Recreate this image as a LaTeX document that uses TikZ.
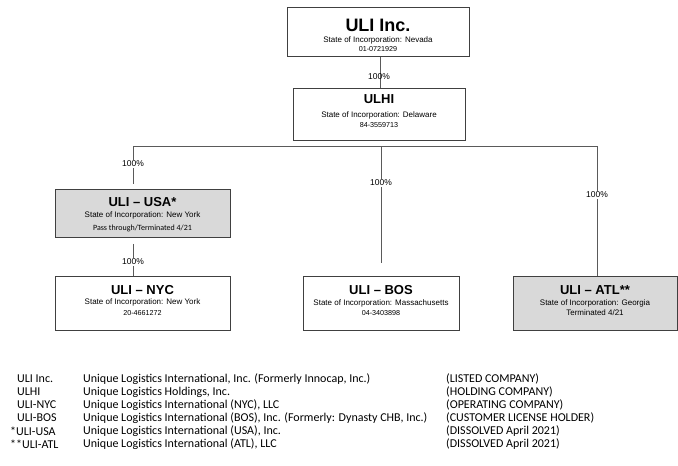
\documentclass[tikz,border=0pt]{standalone}
\usepackage{fontspec}
\setmainfont{Liberation Sans}
\newfontfamily\legfont{Carlito}
\definecolor{boxline}{HTML}{404040}
\definecolor{connline}{HTML}{5A5A5A}
\definecolor{boxfill}{HTML}{D9D9D9}
\begin{document}
\begin{tikzpicture}[x=1pt,y=-1pt,
  box/.style={draw=boxline, line width=0.9pt, inner sep=0pt, anchor=north west},
  gbox/.style={box, fill=boxfill},
  bigtitle/.style={inner sep=0pt, font=\fontsize{18}{18}\selectfont\bfseries},
  title/.style={inner sep=0pt, font=\fontsize{13}{13}\selectfont\bfseries},
  small/.style={inner sep=0pt, font=\fontsize{8}{8}\selectfont},
  num/.style={inner sep=0pt, font=\fontsize{7.2}{8}\selectfont},
  calsmall/.style={inner sep=0pt, font=\legfont\fontsize{8}{8}\selectfont},
  pct/.style={inner sep=1pt, fill=white, font=\fontsize{8.5}{9}\selectfont},
  pctnf/.style={inner sep=0pt, font=\fontsize{8.5}{9}\selectfont},
  conn/.style={draw=connline, line width=0.8pt},
  leg/.style={inner sep=0pt, anchor=west, font=\legfont\fontsize{12}{12}\selectfont}
]
\useasboundingbox (0,0) rectangle (678,466);

% boxes
\node[box, minimum width=182pt, minimum height=49pt] (uli) at (287,7) {};
\node[box, minimum width=172pt, minimum height=52pt] (ulhi) at (293,88) {};
\node[gbox, minimum width=175pt, minimum height=48pt] (usa) at (55,189) {};
\node[box, minimum width=175pt, minimum height=54pt] (nyc) at (55,276) {};
\node[box, minimum width=156pt, minimum height=54pt] (bos) at (303,276) {};
\node[gbox, minimum width=164pt, minimum height=54pt] (atl) at (513,276) {};

% box texts
\node[bigtitle] (uliT) at (378,25) {ULI Inc.};
\node[small] (uliS) at (378,40) {State of Incorporation: Nevada};
\node[num] (uliN) at (378,49) {01-0721929};

\node[title] (ulhiT) at (379,99) {ULHI};
\node[small] (ulhiS) at (379,115) {State of Incorporation: Delaware};
\node[num] (ulhiN) at (379,125) {84-3559713};

\node[title] (usaT) at (142.5,202) {ULI -- USA*};
\node[small] (usaS) at (142.5,215) {State of Incorporation: New York};
\node[calsmall] (usaP) at (142.5,228) {Pass through/Terminated 4/21};

\node[title] (nycT) at (142.5,290) {ULI -- NYC};
\node[small] (nycS) at (142.5,302) {State of Incorporation: New York};
\node[num] (nycN) at (142.5,313) {20-4661272};

\node[title] (bosT) at (381,290) {ULI -- BOS};
\node[small] (bosS) at (381,303) {State of Incorporation: Massachusetts};
\node[num] (bosN) at (381,313) {04-3403898};

\node[title] (atlT) at (595,290) {ULI -- ATL**};
\node[small] (atlS) at (595,303) {State of Incorporation: Georgia};
\node[small] (atlN) at (595,313) {Terminated 4/21};

% connectors
\coordinate (barL) at (133,146);
\coordinate (barM) at (381,146);
\coordinate (barR) at (597,146);
\coordinate (bosEnd) at (381,263);

\draw[conn] (uli.south -| 380,0) -- (ulhi.north -| 380,0);
\node[pctnf] (p0) at (379,77) {100\%};

\draw[conn] (barL) -- (barR);
\draw[conn, shorten >=5pt] (barL) -- (usa.north -| barL);
\node[pct] (p1) at (133,164) {100\%};
\draw[conn, shorten <=6pt] (usa.south -| barL) -- (nyc.north -| barL);
\node[pct] (p2) at (133,262) {100\%};
\draw[conn] (barM) -- (bosEnd);
\node[pct] (p3) at (381,183) {100\%};
\draw[conn] (barR) -- (atl.north -| barR);
\node[pct] (p4) at (597,195) {100\%};

% legend
\node[leg] (a1) at (17,379) {ULI Inc.};
\node[leg] (a2) at (17,392) {ULHI};
\node[leg] (a3) at (17,405) {ULI-NYC};
\node[leg] (a4) at (17,418) {ULI-BOS};
\node[leg] (a5) at (10,431) {*ULI-USA};
\node[leg] (a6) at (10,444) {**ULI-ATL};

\node[leg] (b1) at (83,379) {Unique Logistics International, Inc. (Formerly Innocap, Inc.)};
\node[leg] (b2) at (83,392) {Unique Logistics Holdings, Inc.};
\node[leg] (b3) at (83,405) {Unique Logistics International (NYC), LLC};
\node[leg] (b4) at (83,418) {Unique Logistics International (BOS), Inc. (Formerly: Dynasty CHB, Inc.)};
\node[leg] (b5) at (83,431) {Unique Logistics International (USA), Inc.};
\node[leg] (b6) at (83,444) {Unique Logistics International (ATL), LLC};

\node[leg] (c1) at (446,379) {(LISTED COMPANY)};
\node[leg] (c2) at (446,392) {(HOLDING COMPANY)};
\node[leg] (c3) at (446,405) {(OPERATING COMPANY)};
\node[leg] (c4) at (446,418) {(CUSTOMER LICENSE HOLDER)};
\node[leg] (c5) at (446,431) {(DISSOLVED April 2021)};
\node[leg] (c6) at (446,444) {(DISSOLVED April 2021)};
\end{tikzpicture}
\end{document}
